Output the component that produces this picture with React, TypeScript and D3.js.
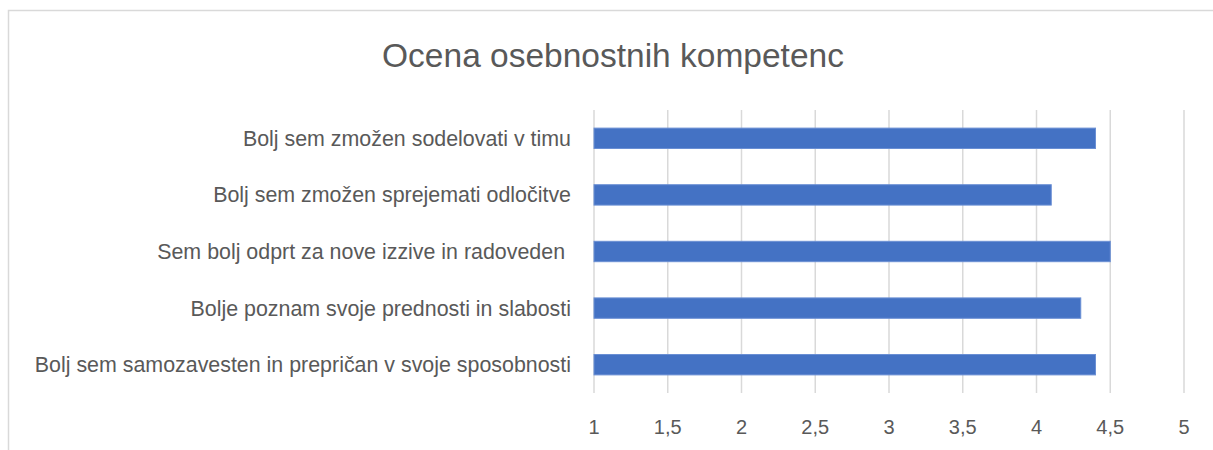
import React from "react";
import * as d3 from "d3";

const categories = [
  "Bolj sem zmožen sodelovati v timu",
  "Bolj sem zmožen sprejemati odločitve",
  "Sem bolj odprt za nove izzive in radoveden ",
  "Bolje poznam svoje prednosti in slabosti",
  "Bolj sem samozavesten in prepričan v svoje sposobnosti",
];
const values = [4.4, 4.1, 4.5, 4.3, 4.4];
const ticks = [1, 1.5, 2, 2.5, 3, 3.5, 4, 4.5, 5];
const title = "Ocena osebnostnih kompetenc";

const W = 1213;
const H = 450;
const FONT = "'Liberation Sans', Arial, sans-serif";

export default function App() {
  const x = d3.scaleLinear().domain([1, 5]).range([594, 1184]);
  const y = d3
    .scaleBand<string>()
    .domain(categories)
    .range([110, 393])
    .paddingInner(0.64)
    .paddingOuter(0.32);
  const fmt = (v: number) => String(v).replace(".", ",");
  return (
    <svg
      width={W}
      height={H}
      style={{ position: "absolute", left: 0, top: 0, background: "#fff" }}
      fontFamily={FONT}
    >
      <rect x={8.5} y={10.5} width={W + 10} height={H + 10} fill="#fff" stroke="#d9d9d9" strokeWidth={1.5} />
      <text x={613} y={67} textAnchor="middle" fontSize={33.5} fill="#595959">
        {title}
      </text>
      {ticks.map((t) => (
        <line key={t} x1={x(t)} x2={x(t)} y1={110} y2={393} stroke="#d9d9d9" strokeWidth={1.5} />
      ))}
      {categories.map((c, i) => (
        <rect
          key={c}
          x={x(1)}
          y={y(c)!}
          width={x(values[i]) - x(1)}
          height={y.bandwidth()}
          fill="#4472c4"
          stroke="#6a8fd4"
          strokeWidth={1}
        />
      ))}
      {categories.map((c) => (
        <text
          key={c}
          x={571}
          y={y(c)! + y.bandwidth() / 2}
          dy="0.35em"
          textAnchor="end"
          fontSize={21.4}
          fill="#595959"
          style={{ whiteSpace: "pre" }}
        >
          {c}
        </text>
      ))}
      {ticks.map((t) => (
        <text key={t} x={x(t)} y={427} dy="0.35em" textAnchor="middle" fontSize={20} fill="#595959">
          {fmt(t)}
        </text>
      ))}
    </svg>
  );
}
